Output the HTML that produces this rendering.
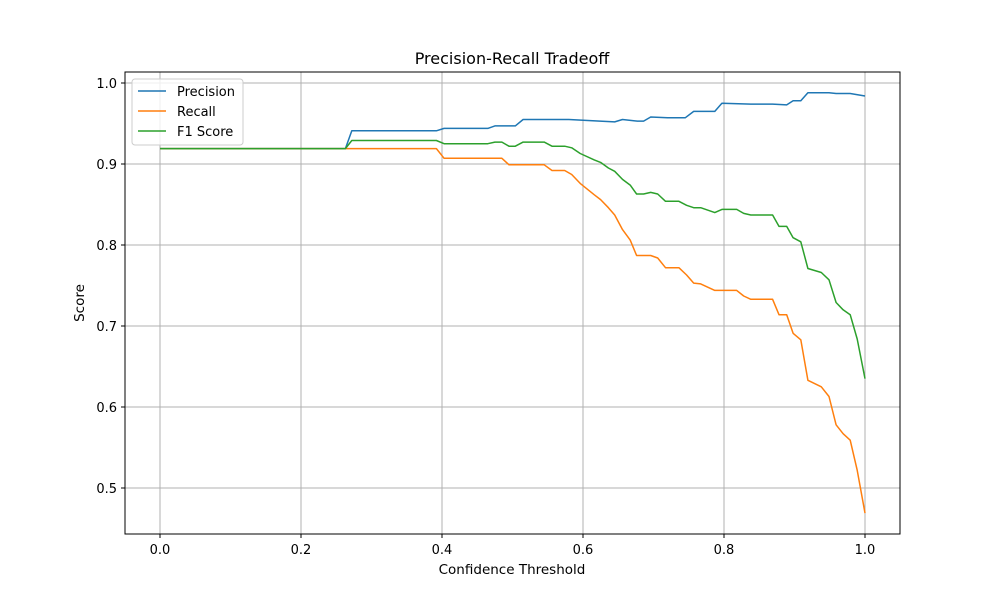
<!DOCTYPE html>
<html><head><meta charset="utf-8"><style>
html,body{margin:0;padding:0;background:#fff;}
svg text{font-family:"DejaVu Sans","Liberation Sans",sans-serif;fill:#000;}
</style></head><body>
<svg id="chart" width="1000" height="600" viewBox="0 0 1000 600" xmlns="http://www.w3.org/2000/svg">
<rect width="1000" height="600" fill="#fff"/>
<g id="grid"></g>
<g id="series"></g>
<rect x="125" y="72" width="775" height="462" fill="none" stroke="#000" stroke-width="1"/>
<g id="ticks"></g>
<text x="512" y="64" font-size="16" text-anchor="middle">Precision-Recall Tradeoff</text>
<text x="512" y="574" font-size="13.5" text-anchor="middle">Confidence Threshold</text>
<text x="0" y="0" font-size="13.5" text-anchor="middle" transform="translate(84,303) rotate(-90)">Score</text>
<g id="legend">
<rect x="132" y="79" width="111" height="66" rx="3" fill="#fff" fill-opacity="0.8" stroke="#ccc"/>
</g>
</svg>
<script>
const xTicks=[0,0.2,0.4,0.6,0.8,1.0];
const yTicks=[0.5,0.6,0.7,0.8,0.9,1.0];
const seriesNames=["Precision","Recall","F1 Score"];
const seriesColors=["#1f77b4","#ff7f0e","#2ca02c"];
const precX=[0,0.263,0.272,0.392,0.403,0.465,0.475,0.504,0.515,0.58,0.624,0.645,0.656,0.677,0.686,0.696,0.72,0.745,0.757,0.787,0.797,0.838,0.869,0.889,0.898,0.909,0.919,0.949,0.959,0.979,1.0];
const precY=[0.919,0.919,0.941,0.941,0.944,0.944,0.947,0.947,0.955,0.955,0.953,0.952,0.955,0.953,0.953,0.958,0.957,0.957,0.965,0.965,0.975,0.974,0.974,0.973,0.978,0.978,0.988,0.988,0.987,0.987,0.984];
const recX=[0,0.392,0.403,0.485,0.495,0.545,0.556,0.574,0.584,0.596,0.616,0.625,0.636,0.645,0.656,0.667,0.676,0.696,0.706,0.717,0.736,0.747,0.757,0.767,0.787,0.818,0.828,0.838,0.869,0.878,0.889,0.898,0.909,0.919,0.938,0.949,0.959,0.969,0.979,0.989,1.0];
const recY=[0.919,0.919,0.907,0.907,0.899,0.899,0.892,0.892,0.887,0.876,0.862,0.856,0.846,0.837,0.819,0.806,0.787,0.787,0.784,0.772,0.772,0.763,0.753,0.752,0.744,0.744,0.737,0.733,0.733,0.714,0.714,0.691,0.683,0.633,0.625,0.613,0.578,0.567,0.559,0.522,0.469];
const f1X=[0,0.263,0.272,0.392,0.403,0.465,0.475,0.485,0.495,0.504,0.515,0.545,0.556,0.574,0.584,0.596,0.616,0.625,0.636,0.645,0.656,0.667,0.676,0.686,0.696,0.706,0.717,0.736,0.747,0.757,0.767,0.787,0.797,0.818,0.828,0.838,0.869,0.878,0.889,0.898,0.909,0.919,0.938,0.949,0.959,0.969,0.979,0.989,1.0];
const f1Y=[0.919,0.919,0.929,0.929,0.925,0.925,0.927,0.927,0.922,0.922,0.927,0.927,0.922,0.922,0.920,0.913,0.905,0.902,0.895,0.891,0.881,0.874,0.863,0.863,0.865,0.863,0.854,0.854,0.849,0.846,0.846,0.840,0.844,0.844,0.839,0.837,0.837,0.823,0.823,0.809,0.804,0.771,0.766,0.757,0.729,0.720,0.714,0.684,0.635];

const NS="http://www.w3.org/2000/svg";
const xs=v=>160+705*v;
const ys=v=>83+810*(1-v);
const grid=document.getElementById('grid'),ticks=document.getElementById('ticks'),ser=document.getElementById('series'),leg=document.getElementById('legend');
function mk(tag,attrs,parent){const e=document.createElementNS(NS,tag);for(const k in attrs)e.setAttribute(k,attrs[k]);parent.appendChild(e);return e;}
xTicks.forEach(t=>{
 const g=mk('line',{x1:xs(t),x2:xs(t),y1:72,y2:534,stroke:'#b0b0b0','stroke-width':1},grid);
 
 
 const tk=mk('line',{x1:xs(t),x2:xs(t),y1:534,y2:538,stroke:'#000'},ticks);
 
 
 const tx=mk('text',{x:xs(t),y:554,'font-size':13,'text-anchor':'middle'},ticks);
 tx.textContent=t.toFixed(1);
 
 
});
yTicks.forEach(t=>{
 const g=mk('line',{x1:125,x2:900,y1:ys(t),y2:ys(t),stroke:'#b0b0b0','stroke-width':1},grid);
 
 
 const tk=mk('line',{x1:121,x2:125,y1:ys(t),y2:ys(t),stroke:'#000'},ticks);
 
 
 const tx=mk('text',{x:117,y:ys(t)+5,'font-size':13,'text-anchor':'end'},ticks);
 tx.textContent=t.toFixed(1);
 
 
});
const data=[[precX,precY],[recX,recY],[f1X,f1Y]];
data.forEach((d,i)=>{
 const pts=d[0].map((x,j)=>xs(x).toFixed(1)+','+ys(d[1][j]).toFixed(1)).join(' ');
 const p=mk('polyline',{points:pts,fill:'none',stroke:seriesColors[i],'stroke-width':1.5,'stroke-linejoin':'round'},ser);
 
 
 const y=91+20*i;
 const l=mk('line',{x1:138,x2:166,y1:y,y2:y,stroke:seriesColors[i],'stroke-width':1.5},leg);
 
 
 const t=mk('text',{x:177,y:y+5,'font-size':13},leg);
 t.textContent=seriesNames[i];
 
 
});
</script>
</body></html>
